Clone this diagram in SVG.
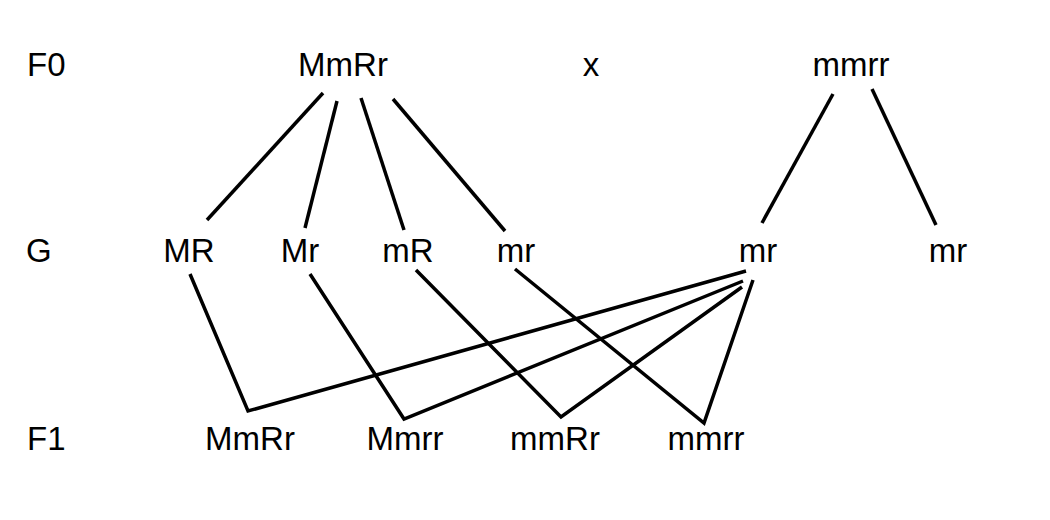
<svg xmlns="http://www.w3.org/2000/svg" width="1050" height="520" viewBox="0 0 1050 520">
<style>
text{font-family:"Liberation Sans",Arial,sans-serif;font-size:33px;fill:#000}
.c{text-anchor:middle}
.l{fill:none;stroke:#000;stroke-width:3.5;stroke-linejoin:miter;stroke-linecap:butt}
</style>
<rect width="1050" height="520" fill="#fff"/>
<g id="labels">
<text x="27" y="76">F0</text>
<text x="26" y="262">G</text>
<text x="27" y="450">F1</text>
</g>
<g id="p1"><text class="c" x="343" y="76">MmRr</text></g>
<g id="cross"><text class="c" x="591" y="76">x</text></g>
<g id="p2"><text class="c" x="851" y="76">mmrr</text></g>
<g id="g1"><text class="c" x="189" y="262">MR</text></g>
<g id="g2"><text class="c" x="300" y="262">Mr</text></g>
<g id="g3"><text class="c" x="408" y="262">mR</text></g>
<g id="g4"><text class="c" x="516" y="262">mr</text></g>
<g id="g5"><text class="c" x="758" y="262">mr</text></g>
<g id="g6"><text class="c" x="948" y="262">mr</text></g>
<g id="f1"><text class="c" x="250" y="450">MmRr</text></g>
<g id="f2"><text class="c" x="405" y="450">Mmrr</text></g>
<g id="f3"><text class="c" x="555" y="450">mmRr</text></g>
<g id="f4"><text class="c" x="706" y="450">mmrr</text></g>
<g id="connectors">
<line class="l" x1="323" y1="93" x2="207" y2="220"/>
<line class="l" x1="337" y1="101" x2="305" y2="228"/>
<line class="l" x1="361" y1="98" x2="404" y2="230"/>
<line class="l" x1="393" y1="99" x2="505" y2="231"/>
<line class="l" x1="833" y1="94" x2="762" y2="223"/>
<line class="l" x1="872" y1="89" x2="936" y2="225"/>
<polyline class="l" points="190,274 248,411 746,271"/>
<polyline class="l" points="310,274 404,419 743,281"/>
<polyline class="l" points="416,270 561,417 742,287"/>
<polyline class="l" points="515,269 704,423 753,280"/>
</g>
</svg>
